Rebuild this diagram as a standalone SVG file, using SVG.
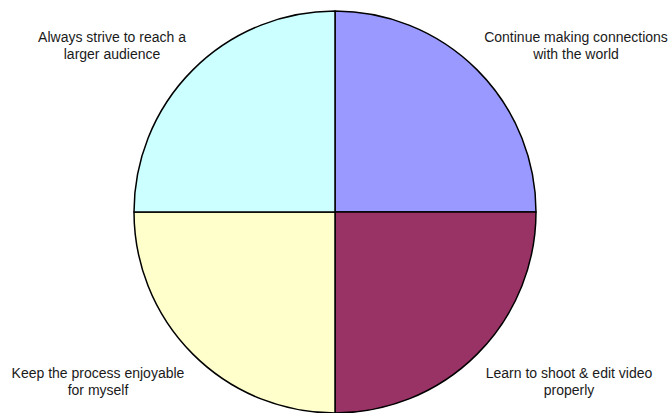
<svg xmlns="http://www.w3.org/2000/svg" width="672" height="413" viewBox="0 0 672 413">
<style>
.q{stroke:#000;stroke-width:1.5;stroke-linejoin:round}
.t{font-family:"Liberation Sans",Arial,sans-serif;font-size:14px;fill:#1a1a1a;text-anchor:middle}
</style>
<rect width="672" height="413" fill="#fff"/>
<g id="pie">
<g id="q-tr"><path class="q" d="M335,212 L335,11 A201,201 0 0 1 536,212 Z" fill="#9999FF"/></g>
<g id="q-br"><path class="q" d="M335,212 L536,212 A201,201 0 0 1 335,413 Z" fill="#993366"/></g>
<g id="q-bl"><path class="q" d="M335,212 L335,413 A201,201 0 0 1 134,212 Z" fill="#FFFFCC"/></g>
<g id="q-tl"><path class="q" d="M335,212 L134,212 A201,201 0 0 1 335,11 Z" fill="#CCFFFF"/></g>
</g>
<g id="labels">
<g id="l-tl"><text class="t" x="112" y="42">Always strive to reach a</text><text class="t" x="112" y="59">larger audience</text></g>
<g id="l-tr"><text class="t" x="576" y="42">Continue making connections</text><text class="t" x="576" y="59">with the world</text></g>
<g id="l-bl"><text class="t" x="98" y="378">Keep the process enjoyable</text><text class="t" x="98" y="395">for myself</text></g>
<g id="l-br"><text class="t" x="569" y="378">Learn to shoot &amp; edit video</text><text class="t" x="569" y="395">properly</text></g>
</g>
</svg>
